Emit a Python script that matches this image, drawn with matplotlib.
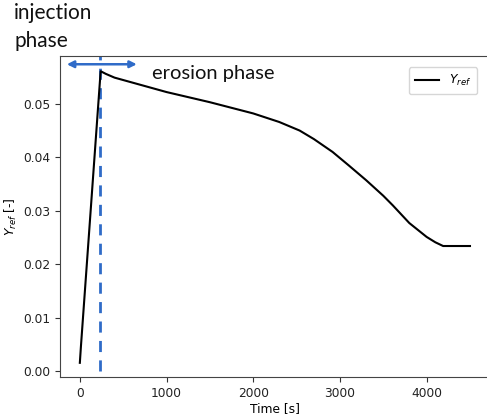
import matplotlib
matplotlib.use("Agg")
import matplotlib.pyplot as plt
import numpy as np

# Data
time_s = [0, 12, 240, 300, 400, 600, 1000, 1500, 2000, 2300, 2535, 2700, 2915, 3100,
          3303, 3500, 3610, 3800, 4000, 4100, 4190, 4500]
y_ref = [0.00155, 0.0045, 0.0561, 0.0556, 0.0549, 0.0540, 0.0522, 0.0503, 0.0482,
         0.0466, 0.0450, 0.0434, 0.0410, 0.0385, 0.0357, 0.0328, 0.0310, 0.0277,
         0.0251, 0.0241, 0.0234, 0.0234]
t_switch = 238
arrow_span = [-150, 657]
arrow_y = 0.0574
xticks = [0, 1000, 2000, 3000, 4000]
yticks = [0.00, 0.01, 0.02, 0.03, 0.04, 0.05]

blue = "#2F6BC8"
fig = plt.figure(figsize=(4.87, 4.16), dpi=100)
ax = fig.add_axes([0.123, 0.0938, 0.883, 0.771])

ax.plot(time_s, y_ref, color="black", lw=1.5, label="$Y_{ref}$")
ax.set_xlim(-230, 4730)
ax.set_ylim(-0.0011, 0.0589)
ax.vlines(t_switch, 0.0, 0.0589, colors=blue, linestyles=(0, (4, 3)), lw=2, zorder=1)
ax.annotate("", xy=(arrow_span[0], arrow_y), xytext=(arrow_span[1], arrow_y),
            arrowprops=dict(arrowstyle="<|-|>", color=blue, lw=1.8,
                            mutation_scale=10, shrinkA=0, shrinkB=0))

ax.set_xticks(xticks)
ax.set_yticks(yticks)
ax.set_yticklabels([f"{v:.2f}" for v in yticks])
ax.tick_params(labelsize=8.8, colors="#333333", labelcolor="#222222")
ax.set_xlabel("Time [s]", fontsize=8.8, labelpad=2)
ax.set_ylabel("$Y_{ref}$ [-]", fontsize=8.8, labelpad=3)
for s in ax.spines.values():
    s.set_color("#444444")

ax.legend(loc="upper right", fontsize=8.8, handlelength=2.0, borderpad=0.5,
          bbox_to_anchor=(0.985, 0.985))

fig.text(14/487, 1 - 3/416, "injection\nphase", fontsize=15, family="Lato",
         ha="left", va="top", linespacing=1.5, color="#111111")
fig.text(152/487, 1 - 73/416, "erosion phase", fontsize=14.5, family="Lato",
         ha="left", va="center", color="#111111")

fig.savefig("out.png", dpi=100)
